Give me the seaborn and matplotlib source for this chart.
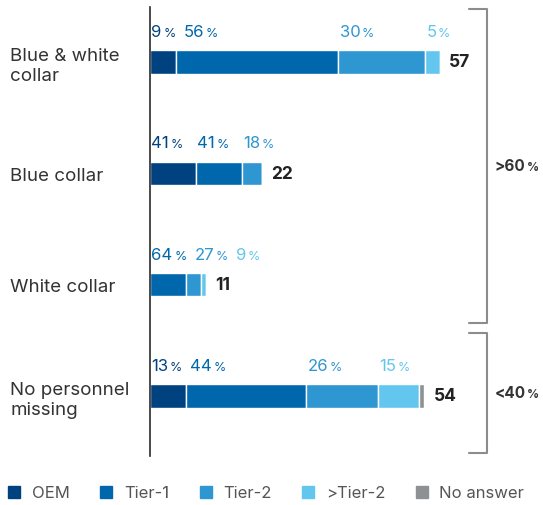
import numpy as np
import pandas as pd
import matplotlib
matplotlib.use("Agg")
import matplotlib.pyplot as plt
import matplotlib.transforms as mtransforms
from matplotlib.lines import Line2D
import seaborn as sns

# Respondent groups and how many answered in each
categories = ["Blue & white\ncollar", "Blue collar", "White collar", "No personnel\nmissing"]
totals = [57, 22, 11, 54]

# Share of each company type within a group (percent)
tiers = ["OEM", "Tier-1", "Tier-2", ">Tier-2", "No answer"]
oem = [9, 41, 0, 13]
tier1 = [56, 41, 64, 44]
tier2 = [30, 18, 27, 26]
tier_gt2 = [5, 0, 9, 15]
no_answer = [0, 0, 0, 2]

group_labels = [">60", "<40"]

palette = ["#00427f", "#0067ac", "#2e96d0", "#62c6ef", "#8e9194"]
text_dark = "#333333"

sns.set_theme(style="white")
plt.rcParams["font.family"] = ["Inter", "DejaVu Sans"]

fig = plt.figure(figsize=(5.43, 5.06), dpi=100)
W, H = 543, 506
ax = fig.add_axes([150 / W, 49 / H, 393 / W, 449 / H])

shares = np.array([oem, tier1, tier2, tier_gt2, no_answer], dtype=float)
tot = np.array(totals, dtype=float)
lefts = np.zeros(len(categories))
seg_starts = []
for k, tier in enumerate(tiers):
    seg = tot * shares[k] / 100.0
    df = pd.DataFrame({"group": categories, "length": seg})
    sns.barplot(data=df, x="length", y="group", orient="y", color=palette[k],
                saturation=1, left=lefts.copy(), width=0.207, errorbar=None,
                edgecolor="white", linewidth=1.0, ax=ax)
    seg_starts.append(lefts.copy())
    lefts = lefts + seg

ax.set_xlim(0, 393 / 5.08)
ax.set_ylim(3.539, -0.494)
ax.set_xlabel("")
ax.set_ylabel("")
ax.set_xticks([])
for side in ["top", "right", "bottom"]:
    ax.spines[side].set_visible(False)
ax.spines["left"].set_color("#2b2b2b")
ax.spines["left"].set_linewidth(1.2)
ax.spines["left"].set_zorder(5)

ax.tick_params(axis="y", length=0, pad=100.8, labelsize=13.5, labelcolor=text_dark)
for lbl in ax.get_yticklabels():
    lbl.set_ha("left")
    lbl.set_linespacing(1.25)

# Group totals at the end of each bar
for i, t in enumerate(totals):
    ax.annotate(str(t), xy=(t, i), xytext=(7, 0), textcoords="offset points",
                ha="left", va="center", fontsize=12.5, fontweight="bold",
                color="#222222")

# Percentage labels above each segment, nudged right when they would collide
fig.canvas.draw()
renderer = fig.canvas.get_renderer()
inv = ax.transData.inverted()
for i in range(len(categories)):
    prev_end = -np.inf
    for k in range(4):
        pct = shares[k][i]
        if pct <= 0:
            continue
        start_px = ax.transData.transform((seg_starts[k][i], i))[0] + 1.5
        x_px = max(start_px, prev_end + 8)
        x_data = inv.transform((x_px, 0))[0]
        num = ax.text(x_data, i - 0.234, f"{pct:g}", ha="left", va="baseline",
                      fontsize=12, color=palette[k])
        pc = ax.annotate("%", xy=(1, 0), xycoords=num, xytext=(1.0, 0),
                         textcoords="offset points", ha="left", va="bottom",
                         fontsize=9, color=palette[k])
        prev_end = pc.get_window_extent(renderer).x1

# Brackets grouping the rows on the right
blend = mtransforms.blended_transform_factory(ax.transAxes, ax.transData)
x_tick, x_vert, x_lab = 0.8117, 0.8575, 0.876
spans = [(-0.476, 2.344), (2.434, 3.512)]
for (y0, y1), lab in zip(spans, group_labels):
    ax.add_line(Line2D([x_tick, x_vert, x_vert, x_tick], [y0, y0, y1, y1],
                       transform=blend, color="#8c8c8c", lw=1.5, clip_on=False))
    t = ax.text(x_lab, (y0 + y1) / 2, lab, transform=blend, ha="left",
                va="center", fontsize=11, fontweight="bold", color=text_dark)
    ax.annotate("%", xy=(1, 0), xycoords=t, xytext=(1.0, 0),
                textcoords="offset points", ha="left", va="bottom",
                fontsize=8.5, fontweight="bold", color=text_dark)

# Legend along the bottom edge
handles = [Line2D([], [], marker="s", linestyle="none", markersize=9,
                  markerfacecolor=c, markeredgecolor=c) for c in palette]
fig.legend(handles, tiers, loc="center left", bbox_to_anchor=(6.0 / W, 1 - 494 / H),
           ncol=5, frameon=False, fontsize=12, labelcolor="#555555",
           handlelength=1.0, handletextpad=0.55, columnspacing=1.7,
           borderaxespad=0, borderpad=0)

fig.savefig("out.png", dpi=100)
